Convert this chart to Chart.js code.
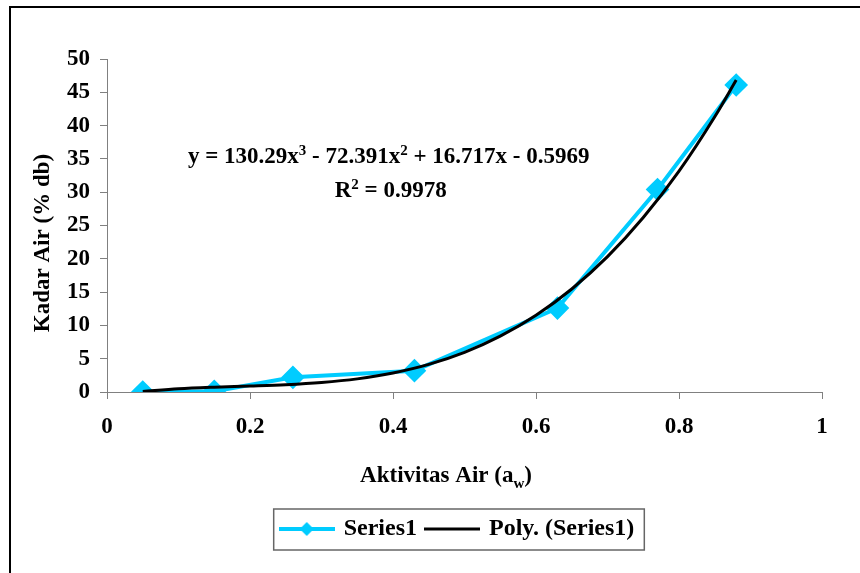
<!DOCTYPE html>
<html>
<head>
<meta charset="utf-8">
<script src="https://cdn.jsdelivr.net/npm/chart.js@4"></script>
<style>
  body { margin: 0; background: #fff; }
  canvas { display: block; }
</style>
</head>
<body>
<canvas id="sorption" width="860" height="573"></canvas>
<script>
// measured points (water activity vs moisture content)
const aw = [0.05, 0.15, 0.26, 0.43, 0.63, 0.77, 0.88];
const kadar = [0.0, 0.1, 2.2, 3.2, 12.6, 30.4, 46.1];

// polynomial trendline
const polyX = [0.05, 0.10, 0.15, 0.20, 0.25, 0.30, 0.35, 0.40, 0.45, 0.50, 0.55, 0.60, 0.65, 0.70, 0.75, 0.80, 0.85, 0.88];
const polyY = [0.07, 0.48, 0.72, 0.89, 1.09, 1.42, 1.97, 2.85, 4.14, 5.95, 8.38, 11.52, 15.47, 20.32, 26.19, 33.16, 41.33, 46.84];

const seriesNames = ['Series1', 'Poly. (Series1)'];
const xTickLabels = ['0', '0.2', '0.4', '0.6', '0.8', '1'];
const xTicks = { min: 0, max: 1, step: 0.2 };
const yTicks = { min: 0, max: 50, step: 5 };

const FONT = "'Liberation Serif', 'Times New Roman', serif";
const CYAN = '#00CCFF';
const AXIS = '#808080';

// legend icons: line with diamond, plain line
function legendIcon(color, width, diamond) {
  const c = document.createElement('canvas');
  c.width = 56; c.height = 20;
  const ctx = c.getContext('2d');
  ctx.strokeStyle = color;
  ctx.lineWidth = width;
  ctx.beginPath();
  ctx.moveTo(0, 10); ctx.lineTo(56, 10);
  ctx.stroke();
  if (diamond) {
    ctx.fillStyle = color;
    ctx.beginPath();
    ctx.moveTo(28, 3); ctx.lineTo(35, 10); ctx.lineTo(28, 17); ctx.lineTo(21, 10);
    ctx.closePath();
    ctx.fill();
  }
  return c;
}
const icons = [legendIcon(CYAN, 4, true), legendIcon('#000', 3, false)];

// draws text runs with sup/sub parts, centred on cx
function richText(ctx, runs, cx, baseline) {
  const big = 'bold 23px ' + FONT;
  const small = 'bold 15px ' + FONT;
  let total = 0;
  runs.forEach(r => { ctx.font = r[1] ? small : big; total += ctx.measureText(r[0]).width; });
  let x = cx - total / 2;
  ctx.textAlign = 'left';
  ctx.textBaseline = 'alphabetic';
  runs.forEach(r => {
    ctx.font = r[1] ? small : big;
    let dy = 0;
    if (r[1] === 'sup') dy = -8;
    if (r[1] === 'sub') dy = 6;
    ctx.fillText(r[0], x, baseline + dy);
    x += ctx.measureText(r[0]).width;
  });
}

const decor = {
  id: 'decor',
  afterLayout(chart) {
    // legend centred under the plot, like the original
    chart.legend.left += 94;
  },
  beforeDraw(chart) {
    const ctx = chart.ctx;
    ctx.save();
    ctx.strokeStyle = '#000';
    ctx.lineWidth = 2;
    ctx.beginPath();
    ctx.moveTo(10, 573); ctx.lineTo(10, 7); ctx.lineTo(860, 7);
    ctx.stroke();
    ctx.restore();
  },
  afterDraw(chart) {
    const ctx = chart.ctx;
    const xs = chart.scales.x, ys = chart.scales.y;
    ctx.save();
    ctx.fillStyle = '#000';

    // y axis title
    ctx.save();
    ctx.translate(43, 243);
    ctx.rotate(-Math.PI / 2);
    ctx.font = 'bold 23px ' + FONT;
    ctx.textAlign = 'center';
    ctx.textBaseline = 'middle';
    ctx.fillText('Kadar Air (% db)', 0, 0);
    ctx.restore();

    // x axis title
    richText(ctx, [['Aktivitas Air (a'], ['w', 'sub'], [')']], 446, 482);

    // trendline equation
    const ex = xs.getPixelForValue(0.394);
    richText(ctx, [['y = 130.29x'], ['3', 'sup'], [' - 72.391x'], ['2', 'sup'], [' + 16.717x - 0.5969']],
      ex, ys.getPixelForValue(34.4));
    richText(ctx, [['R'], ['2', 'sup'], [' = 0.9978']], ex + 2, ys.getPixelForValue(29.3));

    // legend frame
    const boxes = chart.legend.legendHitBoxes;
    if (boxes && boxes.length) {
      const left = Math.min(...boxes.map(b => b.left)) - 8;
      const right = Math.max(...boxes.map(b => b.left + b.width)) + 10;
      const top = boxes[0].top - 8;
      const bottom = boxes[0].top + boxes[0].height + 9;
      ctx.strokeStyle = '#666';
      ctx.lineWidth = 1.5;
      ctx.strokeRect(left, top, right - left, bottom - top);
    }
    ctx.restore();
  }
};

const chart = new Chart(document.getElementById('sorption'), {
  type: 'line',
  data: {
    datasets: [
      {
        label: seriesNames[0],
        data: aw.map((v, i) => ({ x: v, y: kadar[i] })),
        borderColor: CYAN,
        backgroundColor: CYAN,
        borderWidth: 4,
        pointStyle: 'rectRot',
        pointRadius: 9,
        pointHoverRadius: 9,
        tension: 0,
        order: 2
      },
      {
        label: seriesNames[1],
        data: polyX.map((v, i) => ({ x: v, y: polyY[i] })),
        borderColor: '#000',
        backgroundColor: '#000',
        borderWidth: 3,
        pointRadius: 0,
        cubicInterpolationMode: 'monotone',
        order: 1
      }
    ]
  },
  options: {
    responsive: false,
    animation: false,
    layout: { padding: { left: 0, right: 38, top: 59, bottom: 22 } },
    scales: {
      x: {
        type: 'linear',
        min: xTicks.min,
        max: xTicks.max,
        afterFit: s => { s.height = 115; },
        ticks: {
          stepSize: xTicks.step,
          color: '#000',
          padding: 14,
          font: { family: FONT, size: 23, weight: 'bold' },
          callback: (v, i) => xTickLabels[i]
        },
        grid: { drawOnChartArea: false, drawTicks: true, tickLength: 7, color: AXIS },
        border: { display: true, color: AXIS, width: 1 }
      },
      y: {
        min: yTicks.min,
        max: yTicks.max,
        afterFit: s => { s.width = 107; },
        ticks: { stepSize: yTicks.step, color: '#000', padding: 10, font: { family: FONT, size: 23, weight: 'bold' } },
        grid: { drawOnChartArea: false, drawTicks: true, tickLength: 7, color: AXIS },
        border: { display: true, color: AXIS, width: 1 }
      }
    },
    plugins: {
      legend: {
        display: true,
        position: 'bottom',
        labels: {
          usePointStyle: true,
          pointStyleWidth: 50,
          padding: 10,
          color: '#000',
          font: { family: FONT, size: 24, weight: 'bold' },
          generateLabels: c => c.data.datasets.map((ds, i) => ({
            text: ds.label,
            pointStyle: icons[i],
            fontColor: '#000',
            fillStyle: 'transparent',
            strokeStyle: 'transparent',
            lineWidth: 0,
            hidden: false,
            datasetIndex: i
          }))
        }
      },
      tooltip: { enabled: false }
    }
  },
  plugins: [decor]
});
</script>
</body>
</html>
